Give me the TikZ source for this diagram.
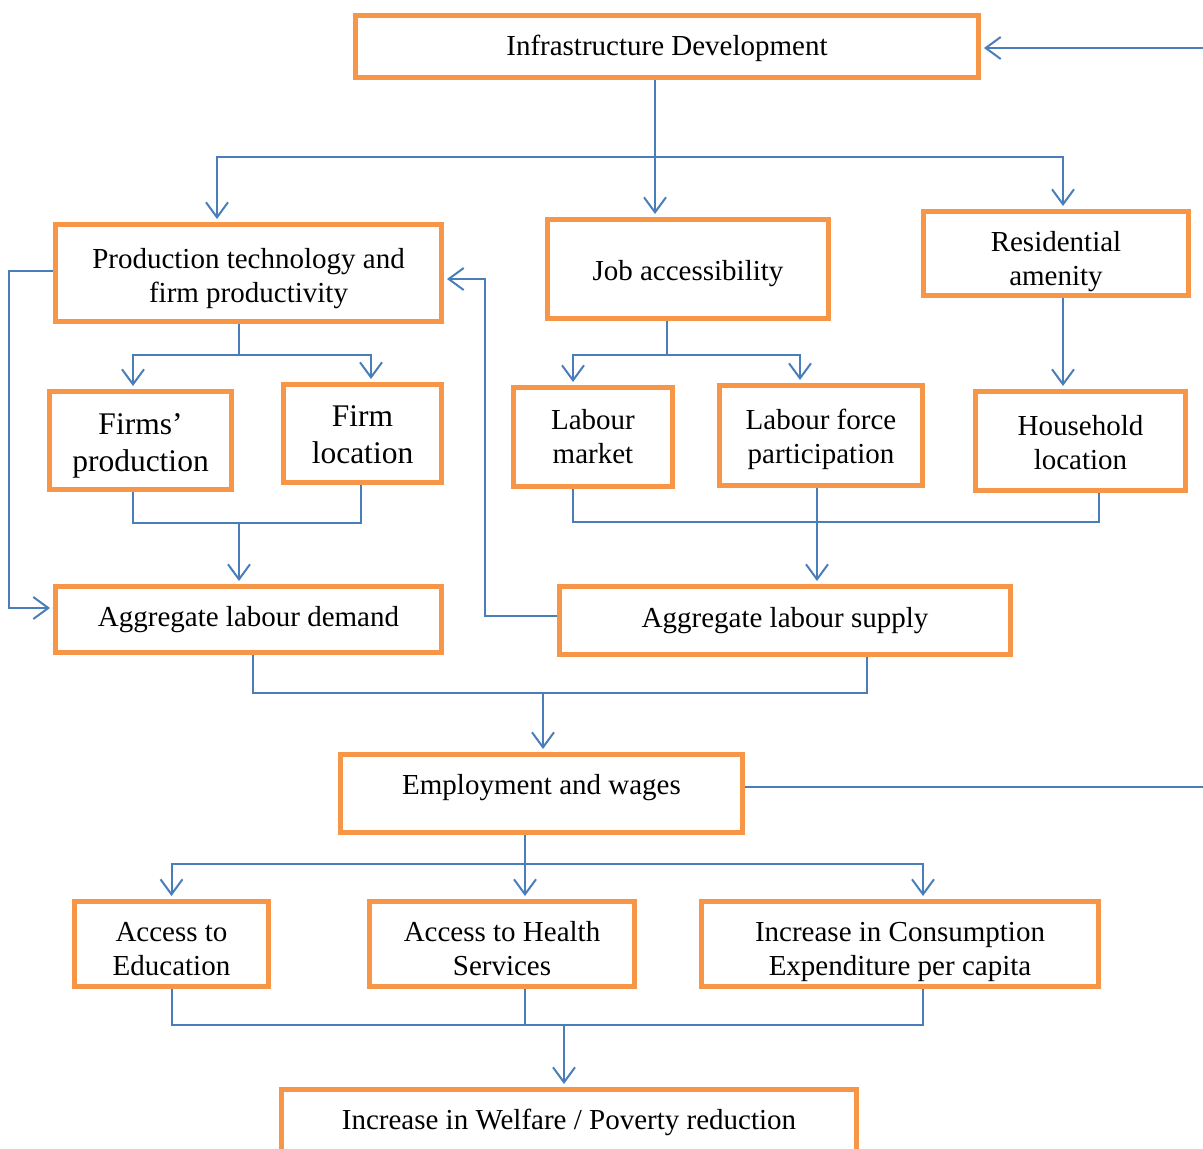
\documentclass[tikz,border=0pt]{standalone}
\usepackage{fontspec}
\setmainfont{Liberation Serif}
\usepackage{tikz}
\usetikzlibrary{arrows.meta}
\definecolor{boxorange}{HTML}{F79646}
\definecolor{linkblue}{HTML}{4A7EBB}
\tikzstyle{box} = [rectangle, draw=boxorange, line width=5pt, fill=white, align=center, inner sep=2pt, font=\fontsize{29}{34}\selectfont]
\tikzstyle{bigbox} = [box, font=\fontsize{31.5}{37}\selectfont]
\tikzstyle{textdown} = [execute at begin node={\rule{0pt}{#1}}]
\tikzstyle{link} = [draw=linkblue, line width=2pt]
\tikzstyle{arrow} = [link, -{Straight Barb[length=15pt, width=22pt, line width=2pt]}, shorten >=3pt]

\begin{document}
\begin{tikzpicture}[x=1pt, y=-1pt]

\clip (0,0) rectangle (1203,1149);
\fill[white] (0,0) rectangle (1203,1149);

\node (infra)     [box, textdown=24pt, minimum width=623pt, minimum height=62pt] at (667,46.5) {Infrastructure Development};
\node (prodtech)  [box, textdown=66pt, minimum width=386pt, minimum height=97pt] at (248.5,273) {Production technology and\\firm productivity};
\node (jobacc)    [box, textdown=30pt, minimum width=281pt, minimum height=99pt] at (688,269) {Job accessibility};
\node (resid)     [box, textdown=70pt, minimum width=265pt, minimum height=84pt] at (1056,253.5) {Residential\\amenity};
\node (firmsprod) [bigbox, textdown=69pt, minimum width=182pt, minimum height=98pt] at (140.5,440.5) {Firms’\\production};
\node (firmloc)   [bigbox, textdown=61pt, minimum width=158pt, minimum height=98pt] at (362.5,433.5) {Firm\\location};
\node (labmkt)    [box, minimum width=159pt, minimum height=99pt] at (593,437) {Labour\\market};
\node (lfp)       [box, textdown=62pt, minimum width=203pt, minimum height=100pt] at (821,435.5) {Labour force\\participation};
\node (household) [box, textdown=58pt, minimum width=210pt, minimum height=99pt] at (1080.5,441) {Household\\location};
\node (demand)    [box, minimum width=386pt, minimum height=66pt] at (248.5,619.5) {Aggregate labour demand};
\node (supply)    [box, minimum width=451pt, minimum height=68pt] at (785,620.5) {Aggregate labour supply};
\node (employ)    [box, minimum width=402pt, minimum height=78pt, text depth=18pt] at (541.5,793.5) {Employment and wages};
\node (educ)      [box, textdown=64pt, minimum width=194pt, minimum height=85pt] at (171.5,944) {Access to\\Education};
\node (health)    [box, textdown=64pt, minimum width=265pt, minimum height=85pt] at (502,944) {Access to Health\\Services};
\node (consum)    [box, textdown=70pt, minimum width=397pt, minimum height=85pt] at (900,944) {Increase in Consumption\\Expenditure per capita};
\node (welfare)   [box, textdown=24pt, minimum width=575pt, minimum height=63pt] at (569,1121) {Increase in Welfare / Poverty reduction};

% junctions
\coordinate (s1) at (655,157);
\coordinate (s2) at (239,355);
\coordinate (s3) at (667,355);
\coordinate (s4) at (525,864);
\coordinate (m1) at (239,523);
\coordinate (m2) at (817,522);
\coordinate (m3) at (543,693);
\coordinate (m4) at (564,1025);
\coordinate (r1) at ([xshift=7pt]resid.south);
\coordinate (fbin) at (1203,48);
\coordinate (fbout) at (1203,787);

% infrastructure to first level
\draw[link] (infra.south -| s1) -- (s1);
\draw[arrow] (s1) -| ([xshift=-31.5pt]prodtech.north);
\draw[arrow] (s1) -- (s1 |- jobacc.north);
\draw[arrow] (s1) -| ([xshift=7pt]resid.north);

% second level
\draw[link] (prodtech.south -| s2) -- (s2);
\draw[arrow] (s2) -| ([xshift=-7.5pt]firmsprod.north);
\draw[arrow] (s2) -| ([xshift=8.5pt]firmloc.north);
\draw[link] (jobacc.south -| s3) -- (s3);
\draw[arrow] (s3) -| ([xshift=-20pt]labmkt.north);
\draw[arrow] (s3) -| ([xshift=-21pt]lfp.north);
\draw[arrow] (r1) -- (r1 |- household.north);

% demand and supply
\draw[link] ([xshift=-7.5pt]firmsprod.south) |- (m1);
\draw[link] ([xshift=-1.5pt]firmloc.south) |- (m1);
\draw[arrow] (m1) -- (m1 |- demand.north);
\draw[link] ([xshift=-20pt]labmkt.south) |- (m2);
\draw[link] ([xshift=18.5pt]household.south) |- (m2);
\draw[arrow] (lfp.south -| m2) -- (m2 |- supply.north);
\draw[arrow] ([yshift=2pt]prodtech.west) -- ++(-44.5,0) |- ([yshift=11.5pt]demand.west);
\draw[arrow] ([yshift=4.5pt]supply.west) -- ++(-72.5,0) |- ([yshift=-6pt]prodtech.east);

% employment
\draw[link] ([xshift=4.5pt]demand.south) |- (m3);
\draw[link] ([xshift=82pt]supply.south) |- (m3);
\draw[arrow] (m3) -- (m3 |- employ.north);
\draw[link] (employ.south -| s4) -- (s4);
\draw[arrow] (s4) -| (educ.north);
\draw[arrow] (s4) -- (s4 |- health.north);
\draw[arrow] (s4) -| ([xshift=23pt]consum.north);

% welfare
\draw[link] (educ.south) |- (m4);
\draw[link] ([xshift=23pt]consum.south) |- (m4);
\draw[link] (health.south -| s4) -- (s4 |- m4);
\draw[arrow] (m4) -- (m4 |- welfare.north);

% feedback
\draw[arrow] (fbin) -- (fbin -| infra.east);
\draw[link] (fbout -| employ.east) -- (fbout);

\end{tikzpicture}
\end{document}
